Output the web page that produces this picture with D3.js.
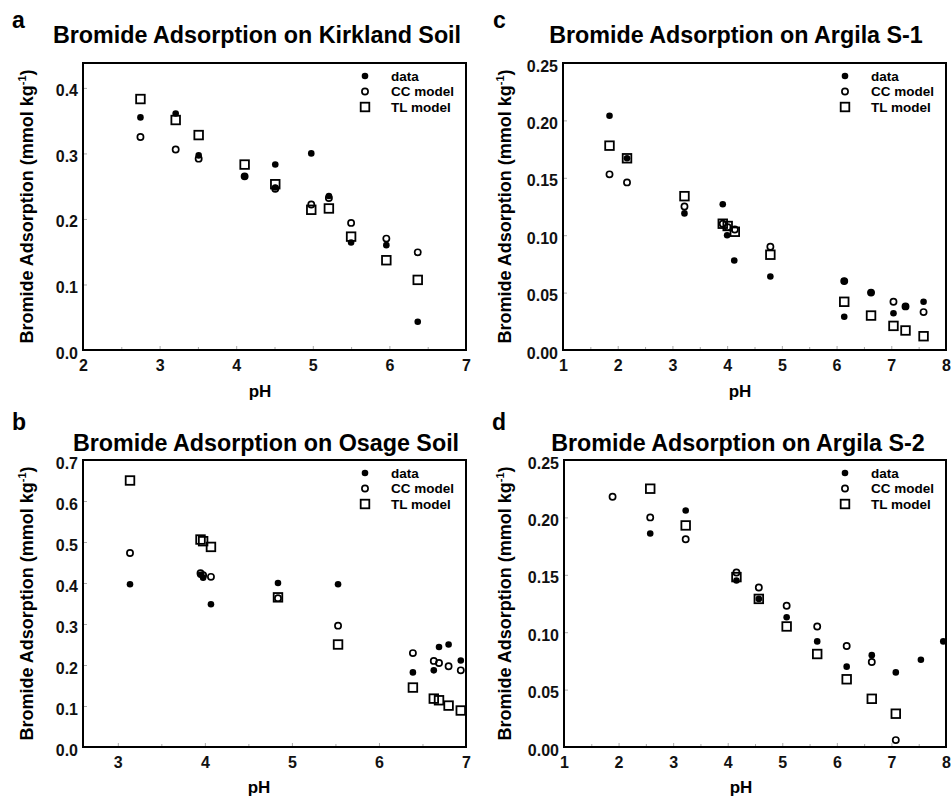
<!DOCTYPE html>
<html lang="en">
<head>
<meta charset="UTF-8">
<title>Bromide Adsorption</title>
<style>
  body { margin: 0; padding: 0; background: #fff; }
  svg { display: block; font-family: 'Liberation Sans', Arial, sans-serif; font-weight: bold; }
  .tick line { stroke: #aaa; stroke-width: 1; }
  .tick text { font-size: 16px; fill: #111; }
</style>
</head>
<body>
<svg id="chart" width="951" height="798"></svg>
<script src="https://d3js.org/d3.v7.min.js"></script>
<script>
// ---- data: [pH, adsorption in mmol/kg] ----
const kirklandData = [[2.75,0.355],[3.21,0.361],[3.51,0.297],[4.11,0.265],[4.51,0.283],[4.51,0.248],[4.98,0.300],[5.21,0.235],[5.50,0.164],[5.96,0.160],[6.37,0.043]];
const kirklandCC   = [[2.75,0.325],[3.21,0.306],[3.51,0.292],[4.11,0.265],[4.51,0.246],[4.98,0.222],[5.21,0.232],[5.50,0.194],[5.96,0.170],[6.37,0.149]];
const kirklandTL   = [[2.75,0.383],[3.21,0.351],[3.51,0.328],[4.11,0.283],[4.51,0.253],[4.98,0.214],[5.21,0.216],[5.50,0.173],[5.96,0.137],[6.37,0.107]];

const osageData = [[3.14,0.397],[3.95,0.420],[3.98,0.413],[4.07,0.348],[4.84,0.400],[5.53,0.397],[6.39,0.182],[6.63,0.187],[6.69,0.244],[6.80,0.250],[6.94,0.211]];
const osageCC   = [[3.14,0.473],[3.95,0.424],[3.98,0.419],[4.07,0.415],[4.84,0.363],[5.53,0.296],[6.39,0.229],[6.63,0.210],[6.69,0.205],[6.80,0.197],[6.94,0.187]];
const osageTL   = [[3.14,0.650],[3.95,0.506],[3.98,0.502],[4.07,0.488],[4.84,0.365],[5.53,0.250],[6.39,0.145],[6.63,0.118],[6.69,0.114],[6.80,0.101],[6.94,0.089]];

const argila1Data = [[1.85,0.204],[2.17,0.167],[3.22,0.119],[3.92,0.127],[4.00,0.100],[4.13,0.078],[4.79,0.064],[6.14,0.060],[6.14,0.029],[6.63,0.050],[7.04,0.032],[7.26,0.038],[7.59,0.042]];
const argila1CC   = [[1.85,0.153],[2.17,0.146],[3.22,0.125],[3.92,0.110],[4.01,0.107],[4.14,0.105],[4.79,0.090],[6.14,0.060],[6.63,0.050],[7.04,0.042],[7.26,0.038],[7.59,0.033]];
const argila1TL   = [[1.85,0.178],[2.17,0.167],[3.22,0.134],[3.92,0.110],[4.01,0.108],[4.14,0.103],[4.79,0.083],[6.14,0.042],[6.63,0.030],[7.04,0.021],[7.26,0.017],[7.59,0.012]];

const argila2Data = [[2.58,0.186],[3.23,0.206],[4.16,0.145],[4.57,0.129],[5.08,0.113],[5.64,0.092],[6.18,0.070],[6.64,0.080],[7.08,0.065],[7.54,0.076],[7.95,0.092]];
const argila2CC   = [[1.89,0.218],[2.58,0.200],[3.23,0.181],[4.16,0.152],[4.57,0.139],[5.08,0.123],[5.64,0.105],[6.18,0.088],[6.64,0.074],[7.08,0.006]];
const argila2TL   = [[2.58,0.225],[3.23,0.193],[4.16,0.148],[4.57,0.129],[5.08,0.105],[5.64,0.081],[6.18,0.059],[6.64,0.042],[7.08,0.029]];

const legendLabels = ["data", "CC model", "TL model"];
const titles = ["Bromide Adsorption on Kirkland Soil", "Bromide Adsorption on Osage Soil",
                "Bromide Adsorption on Argila S-1", "Bromide Adsorption on Argila S-2"];
const panelLetters = ["a", "b", "c", "d"];
const yTicksA = [0, 0.1, 0.2, 0.3, 0.4];
const yTicksB = [0, 0.1, 0.2, 0.3, 0.4, 0.5, 0.6, 0.7];
const yTicksArg = [0, 0.05, 0.10, 0.15, 0.20, 0.25];

const svg = d3.select("#chart");
svg.append("rect").attr("width", 951).attr("height", 798).attr("fill", "#fff");

// layout for each panel
const panels = [
  { letter: panelLetters[0], title: titles[0], data: kirklandData, cc: kirklandCC, tl: kirklandTL,
    left: 83, right: 466, top: 63, bottom: 350, xDom: [2, 7], yDom: [0, 0.438],
    xTicks: [2, 3, 4, 5, 6, 7], yTicks: yTicksA, yFmt: ".1f",
    titleX: 257, titleY: 43, letterX: 12, letterY: 28, phX: 260, phY: 397, ylabX: 33 },
  { letter: panelLetters[1], title: titles[1], data: osageData, cc: osageCC, tl: osageTL,
    left: 83, right: 466, top: 460, bottom: 747, xDom: [2.6, 7], yDom: [0, 0.7],
    xTicks: [3, 4, 5, 6, 7], yTicks: yTicksB, yFmt: ".1f",
    titleX: 266, titleY: 451, letterX: 12, letterY: 430, phX: 259, phY: 793, ylabX: 33 },
  { letter: panelLetters[2], title: titles[2], data: argila1Data, cc: argila1CC, tl: argila1TL,
    left: 563, right: 946, top: 63, bottom: 350, xDom: [1, 8], yDom: [0, 0.25],
    xTicks: [1, 2, 3, 4, 5, 6, 7, 8], yTicks: yTicksArg, yFmt: ".2f",
    titleX: 736, titleY: 43, letterX: 493, letterY: 28, phX: 740, phY: 397, ylabX: 511 },
  { letter: panelLetters[3], title: titles[3], data: argila2Data, cc: argila2CC, tl: argila2TL,
    left: 564, right: 946, top: 460, bottom: 747, xDom: [1, 8], yDom: [0, 0.25],
    xTicks: [1, 2, 3, 4, 5, 6, 7, 8], yTicks: yTicksArg, yFmt: ".2f",
    titleX: 738, titleY: 451, letterX: 492, letterY: 430, phX: 741, phY: 793, ylabX: 511 }
];

function symbol(g, kind, cx, cy) {
  if (kind === "data") {
    g.append("circle").attr("cx", cx).attr("cy", cy).attr("r", 3.3).attr("fill", "#000");
  } else if (kind === "cc") {
    g.append("circle").attr("cx", cx).attr("cy", cy).attr("r", 3.1)
      .attr("fill", "none").attr("stroke", "#000").attr("stroke-width", 1.7);
  } else {
    g.append("rect").attr("x", cx - 4.3).attr("y", cy - 4.3).attr("width", 8.6).attr("height", 8.6)
      .attr("fill", "none").attr("stroke", "#000").attr("stroke-width", 1.8);
  }
}

function drawPanel(p) {
  const x = d3.scaleLinear().domain(p.xDom).range([p.left, p.right]);
  const y = d3.scaleLinear().domain(p.yDom).range([p.bottom, p.top]);
  const g = svg.append("g");

  // minor x ticks at half units (inside)
  const minor = d3.range(Math.ceil(p.xDom[0] * 2) / 2, p.xDom[1], 0.5).filter(v => v % 1 !== 0);
  g.append("g").attr("transform", `translate(0,${p.bottom})`)
    .call(d3.axisBottom(x).tickValues(minor).tickSize(-3).tickFormat(""))
    .call(a => a.select(".domain").remove());

  g.append("g").attr("transform", `translate(0,${p.bottom})`)
    .call(d3.axisBottom(x).tickValues(p.xTicks).tickSize(-4).tickPadding(10).tickFormat(d3.format("d")))
    .call(a => a.select(".domain").remove());

  g.append("g").attr("transform", `translate(${p.left},0)`)
    .call(d3.axisLeft(y).tickValues(p.yTicks).tickSize(-4).tickPadding(5).tickFormat(d3.format(p.yFmt)))
    .call(a => a.select(".domain").remove())
    .call(a => a.selectAll("text").attr("dy", "0.5em"));

  // frame
  g.append("rect").attr("x", p.left).attr("y", p.top)
    .attr("width", p.right - p.left).attr("height", p.bottom - p.top)
    .attr("fill", "none").attr("stroke", "#000").attr("stroke-width", 2);

  // points: TL squares, CC circles, then data on top
  const pts = g.append("g");
  p.tl.forEach(d => symbol(pts, "tl", x(d[0]), y(d[1])));
  p.cc.forEach(d => symbol(pts, "cc", x(d[0]), y(d[1])));
  p.data.forEach(d => symbol(pts, "data", x(d[0]), y(d[1])));

  // legend
  const lg = g.append("g");
  ["data", "cc", "tl"].forEach((k, i) => {
    const ly = p.top + 13 + i * 15.5;
    symbol(lg, k, p.right - 101, ly);
    lg.append("text").attr("x", p.right - 75).attr("y", ly + 4.5)
      .attr("font-size", 13.5).text(legendLabels[i]);
  });

  // titles and labels
  g.append("text").attr("x", p.titleX).attr("y", p.titleY).attr("text-anchor", "middle")
    .attr("font-size", 23.3).text(p.title);
  g.append("text").attr("x", p.letterX).attr("y", p.letterY).attr("font-size", 23).text(p.letter);
  g.append("text").attr("x", p.phX).attr("y", p.phY).attr("text-anchor", "middle")
    .attr("font-size", 17).text("pH");

  const yl = g.append("text")
    .attr("transform", `translate(${p.ylabX},${(p.top + p.bottom) / 2}) rotate(-90)`)
    .attr("text-anchor", "middle").attr("font-size", 18);
  yl.append("tspan").text("Bromide Adsorption (mmol kg");
  yl.append("tspan").attr("font-size", 11).attr("dy", -7).text("-1");
  yl.append("tspan").attr("dy", 7).text(")");
}

panels.forEach(drawPanel);
</script>
</body>
</html>
